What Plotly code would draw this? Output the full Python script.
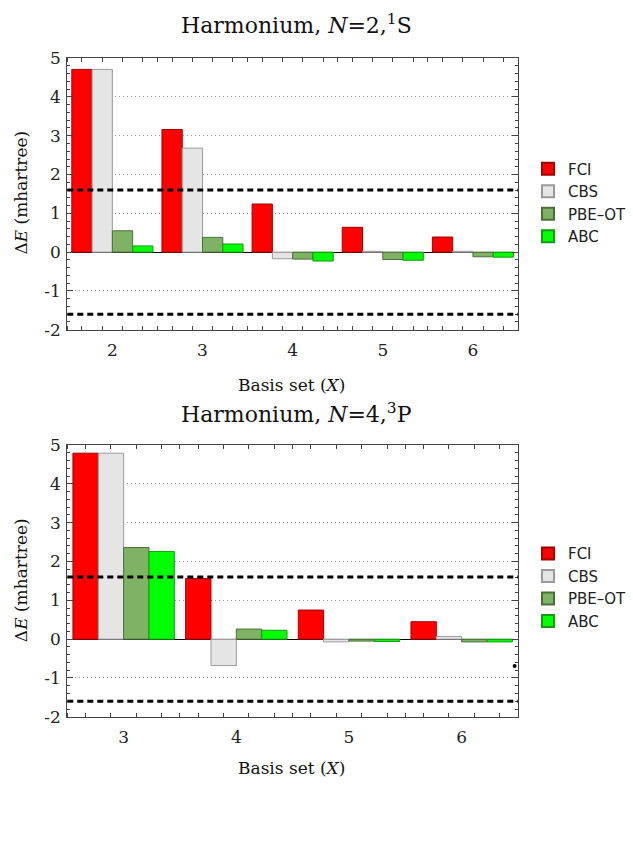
import plotly.graph_objects as go

# ---------------- data ----------------
series_names = ["FCI", "CBS", "PBE\u2013OT", "ABC"]

top_basis = [2, 3, 4, 5, 6]
top_fci = [4.71, 3.16, 1.24, 0.64, 0.39]
top_cbs = [4.71, 2.68, -0.17, 0.02, 0.02]
top_pbe = [0.55, 0.38, -0.18, -0.19, -0.12]
top_abc = [0.16, 0.21, -0.23, -0.21, -0.13]

bot_basis = [3, 4, 5, 6]
bot_fci = [4.79, 1.56, 0.75, 0.45]
bot_cbs = [4.79, -0.68, -0.07, 0.07]
bot_pbe = [2.36, 0.26, -0.05, -0.07]
bot_abc = [2.26, 0.23, -0.06, -0.07]

chem_acc = [1.6, -1.6]          # dashed reference lines (mhartree)
y_ticks = [-2, -1, 0, 1, 2, 3, 4, 5]
stray_dot_x = [6.47]
stray_dot_y = [-0.69]

# ---------------- styles ----------------
fills = ["#ff0000", "#e5e5e5", "#80b266", "#00ff00"]
edges = ["#a00000", "#9a9a9a", "#4a7038", "#159a15"]

W, H = 633, 843
SERIF = "DejaVu Serif"

fig = go.Figure()

def add_panel(basis, vals, xa, ya, legend):
    for i, (name, v) in enumerate(zip(series_names, vals)):
        fig.add_trace(go.Bar(
            x=basis, y=v, name=name, xaxis=xa, yaxis=ya, legend=legend,
            marker=dict(color=fills[i], line=dict(color=edges[i], width=1)),
        ))

add_panel(top_basis, [top_fci, top_cbs, top_pbe, top_abc], "x", "y", "legend")
add_panel(bot_basis, [bot_fci, bot_cbs, bot_pbe, bot_abc], "x2", "y2", "legend2")

fig.add_trace(go.Scatter(x=stray_dot_x, y=stray_dot_y, mode="markers",
                         marker=dict(color="black", size=4), xaxis="x2", yaxis="y2",
                         showlegend=False, hoverinfo="skip"))

# pixel -> paper helpers
def px(x): return x / W
def py(y): return 1 - y / H

x_dom = [px(67.3), px(518)]
top_dom = [py(327.5), py(49.3)]
bot_dom = [py(724), py(445.6)]

def minor_vals(basis):
    bw = 0.9 / 4
    vals = []
    for b in basis:
        vals.append(b - 0.5)
        for k in range(4):
            vals.append(b - 0.45 + bw * (k + 0.5))
    vals.append(basis[-1] + 0.5)
    return vals

AX = "#444"

def xaxis(dom, basis, anchor):
    return dict(domain=dom, anchor=anchor, range=[basis[0] - 0.5, basis[-1] + 0.5],
                tickvals=basis, ticks="", showgrid=False, zeroline=False,
                showline=True, linecolor=AX, linewidth=1.3, mirror="allticks",
                tickfont=dict(family=SERIF, size=17, color="#222"),
                ticklabelstandoff=5,
                minor=dict(tickmode="array", tickvals=minor_vals(basis), ticks="inside",
                           ticklen=4, tickcolor=AX, tickwidth=1))

def yaxis(dom, anchor):
    return dict(domain=dom, anchor=anchor, range=[-2, 5], tickvals=y_ticks,
                ticktext=[str(v) if v >= 0 else "-" + str(-v) for v in y_ticks],
                ticks="inside", ticklen=6, tickcolor=AX, tickwidth=1,
                showline=True, linecolor=AX, linewidth=1.3, mirror="allticks",
                showgrid=True, gridcolor="#999999", griddash="1px,3px", gridwidth=1,
                zeroline=True, zerolinecolor="black", zerolinewidth=1.2,
                tickfont=dict(family=SERIF, size=17, color="#222"),
                ticklabelstandoff=2,
                minor=dict(dtick=0.2, tick0=0, ticks="inside", ticklen=3,
                           tickcolor=AX, tickwidth=1, showgrid=False))

legend_style = dict(font=dict(family="DejaVu Sans", size=15, color="#222"),
                    bgcolor="rgba(0,0,0,0)", tracegroupgap=0, itemsizing="constant",
                    xanchor="left", yanchor="top", traceorder="normal")

fig.update_layout(
    width=W, height=H, margin=dict(l=0, r=0, t=0, b=0),
    paper_bgcolor="white", plot_bgcolor="white",
    barmode="group", bargap=0.1, bargroupgap=0,
    xaxis=xaxis(x_dom, top_basis, "y"),
    yaxis=yaxis(top_dom, "x"),
    xaxis2=xaxis(x_dom, bot_basis, "y2"),
    yaxis2=yaxis(bot_dom, "x2"),
    legend=dict(x=px(528), y=py(146), **legend_style),
    legend2=dict(x=px(528), y=py(540), **legend_style),
    showlegend=True,
)

# dashed chemical-accuracy lines
for xr, yr in (("x domain", "y"), ("x2 domain", "y2")):
    for v in chem_acc:
        fig.add_shape(type="line", xref=xr, yref=yr, x0=0, x1=1, y0=v, y1=v,
                      line=dict(color="black", width=3, dash="6px,4px"), layer="above")

# titles and axis labels
ann_font = dict(family=SERIF, color="#111")
anns = [
    dict(text="Harmonium, <i>N</i>=2,<sup>1</sup>S", x=px(296), y=py(14), size=22),
    dict(text="Harmonium, <i>N</i>=4,<sup>3</sup>P", x=px(296), y=py(413), size=22),
    dict(text="Basis set (<i>X</i>)", x=px(291), y=py(384), size=17),
    dict(text="Basis set (<i>X</i>)", x=px(291), y=py(776), size=17),
]
for a in anns:
    fig.add_annotation(text=a["text"], x=a["x"], y=a["y"], xref="paper", yref="paper",
                       showarrow=False, xanchor="center", yanchor="middle",
                       font=dict(size=a["size"], **ann_font))
for yc in (187, 584):
    fig.add_annotation(text="\u0394<i>E</i> (mhartree)", x=px(21), y=py(yc), xref="paper",
                       yref="paper", showarrow=False, textangle=-90,
                       xanchor="center", yanchor="middle",
                       font=dict(size=17, **ann_font))

fig.write_html("out.html")
